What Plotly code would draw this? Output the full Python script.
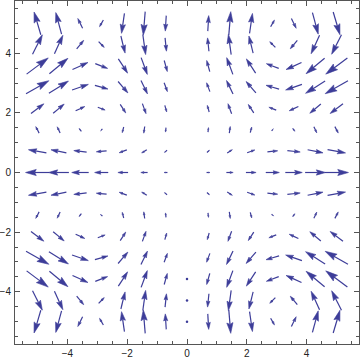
import math
import plotly.graph_objects as go

# grid of sample points (same for x and y)
xs = [-5.0, -4.29, -3.57, -2.86, -2.14, -1.43, -0.71, 0.0, 0.71, 1.43, 2.14, 2.86, 3.57, 4.29, 5.0]
ys = [-5.0, -4.29, -3.57, -2.86, -2.14, -1.43, -0.71, 0.0, 0.71, 1.43, 2.14, 2.86, 3.57, 4.29, 5.0]

# horizontal components, one row per y (bottom to top)
U = [
    [-1.42, -1.22, -1.01, -0.81, -0.61, -0.41, -0.20, 0.001, 0.20, 0.41, 0.61, 0.81, 1.01, 1.22, 1.42],
    [2.07, 1.77, 1.48, 1.18, 0.89, 0.59, 0.29, 0.001, -0.29, -0.59, -0.89, -1.18, -1.48, -1.77, -2.07],
    [4.55, 3.90, 3.25, 2.60, 1.95, 1.30, 0.65, 0.001, -0.65, -1.30, -1.95, -2.60, -3.25, -3.90, -4.55],
    [4.80, 4.11, 3.43, 2.74, 2.06, 1.37, 0.69, 0, -0.69, -1.37, -2.06, -2.74, -3.43, -4.11, -4.80],
    [2.71, 2.32, 1.94, 1.55, 1.16, 0.77, 0.39, 0, -0.39, -0.77, -1.16, -1.55, -1.94, -2.32, -2.71],
    [-0.71, -0.61, -0.50, -0.40, -0.30, -0.20, -0.10, 0, 0.10, 0.20, 0.30, 0.40, 0.50, 0.61, 0.71],
    [-3.78, -3.24, -2.70, -2.16, -1.62, -1.08, -0.54, 0, 0.54, 1.08, 1.62, 2.16, 2.70, 3.24, 3.78],
    [-5.00, -4.29, -3.57, -2.86, -2.14, -1.43, -0.71, 0, 0.71, 1.43, 2.14, 2.86, 3.57, 4.29, 5.00],
    [-3.78, -3.24, -2.70, -2.16, -1.62, -1.08, -0.54, 0, 0.54, 1.08, 1.62, 2.16, 2.70, 3.24, 3.78],
    [-0.71, -0.61, -0.50, -0.40, -0.30, -0.20, -0.10, 0, 0.10, 0.20, 0.30, 0.40, 0.50, 0.61, 0.71],
    [2.71, 2.32, 1.94, 1.55, 1.16, 0.77, 0.39, 0, -0.39, -0.77, -1.16, -1.55, -1.94, -2.32, -2.71],
    [4.80, 4.11, 3.43, 2.74, 2.06, 1.37, 0.69, 0, -0.69, -1.37, -2.06, -2.74, -3.43, -4.11, -4.80],
    [4.55, 3.90, 3.25, 2.60, 1.95, 1.30, 0.65, 0, -0.65, -1.30, -1.95, -2.60, -3.25, -3.90, -4.55],
    [2.07, 1.77, 1.48, 1.18, 0.89, 0.59, 0.29, 0, -0.29, -0.59, -0.89, -1.18, -1.48, -1.77, -2.07],
    [-1.42, -1.22, -1.01, -0.81, -0.61, -0.41, -0.20, 0, 0.20, 0.41, 0.61, 0.81, 1.01, 1.22, 1.42],
]

# vertical components, one row per y (bottom to top)
V = [
    [-4.80, -4.55, -2.08, 1.40, 4.20, 4.95, 3.27, 0, -3.27, -4.95, -4.20, -1.40, 2.08, 4.55, 4.80],
    [-4.11, -3.90, -1.79, 1.20, 3.60, 4.24, 2.81, 0, -2.81, -4.24, -3.60, -1.20, 1.79, 3.90, 4.11],
    [-3.42, -3.25, -1.49, 1.00, 3.00, 3.54, 2.34, 0, -2.34, -3.54, -3.00, -1.00, 1.49, 3.25, 3.42],
    [-2.74, -2.60, -1.19, 0.80, 2.40, 2.83, 1.87, 0, -1.87, -2.83, -2.40, -0.80, 1.19, 2.60, 2.74],
    [-2.06, -1.95, -0.89, 0.60, 1.80, 2.12, 1.40, 0, -1.40, -2.12, -1.80, -0.60, 0.89, 1.95, 2.06],
    [-1.37, -1.30, -0.60, 0.40, 1.20, 1.41, 0.94, 0, -0.94, -1.41, -1.20, -0.40, 0.60, 1.30, 1.37],
    [-0.68, -0.65, -0.30, 0.20, 0.60, 0.71, 0.47, 0, -0.47, -0.71, -0.60, -0.20, 0.30, 0.65, 0.68],
    [0, 0, 0, 0, 0, 0, 0, 0, 0, 0, 0, 0, 0, 0, 0],
    [0.68, 0.65, 0.30, -0.20, -0.60, -0.71, -0.47, 0, 0.47, 0.71, 0.60, 0.20, -0.30, -0.65, -0.68],
    [1.37, 1.30, 0.60, -0.40, -1.20, -1.41, -0.94, 0, 0.94, 1.41, 1.20, 0.40, -0.60, -1.30, -1.37],
    [2.06, 1.95, 0.89, -0.60, -1.80, -2.12, -1.40, 0, 1.40, 2.12, 1.80, 0.60, -0.89, -1.95, -2.06],
    [2.74, 2.60, 1.19, -0.80, -2.40, -2.83, -1.87, 0, 1.87, 2.83, 2.40, 0.80, -1.19, -2.60, -2.74],
    [3.42, 3.25, 1.49, -1.00, -3.00, -3.54, -2.34, 0, 2.34, 3.54, 3.00, 1.00, -1.49, -3.25, -3.42],
    [4.11, 3.90, 1.79, -1.20, -3.60, -4.24, -2.81, 0, 2.81, 4.24, 3.60, 1.20, -1.79, -3.90, -4.11],
    [4.80, 4.55, 2.08, -1.40, -4.20, -4.95, -3.27, 0, 3.27, 4.95, 4.20, 1.40, -2.08, -4.55, -4.80],
]

tick_vals = [-4, -2, 0, 2, 4]
tick_text = ["\u22124", "\u22122", "0", "2", "4"]

COLOR = "#3d3d99"
SCALE = 0.159      # axis units per unit of magnitude
HEAD_FRAC = 0.45
HEAD_HALF = 0.29
NOTCH = 0.15

sx, sy = [], []
hx, hy = [], []
dx_, dy_ = [], []
for j, y in enumerate(ys):
    for i, x in enumerate(xs):
        u, v = U[j][i], V[j][i]
        m = math.hypot(u, v)
        if m == 0:
            continue
        if m < 0.05:
            dx_.append(x); dy_.append(y)
            continue
        L = m * SCALE
        ux, uy = u / m, v / m
        px, py = -uy, ux
        x0, y0 = x - ux * L / 2, y - uy * L / 2
        x1, y1 = x + ux * L / 2, y + uy * L / 2
        h = HEAD_FRAC * L
        w = HEAD_HALF * h
        bx, by = x1 - ux * h, y1 - uy * h
        sx += [x0, bx + ux * h * NOTCH, None]
        sy += [y0, by + uy * h * NOTCH, None]
        hx += [x1, bx + px * w, bx + ux * h * NOTCH, bx - px * w, x1, None]
        hy += [y1, by + py * w, by + uy * h * NOTCH, by - py * w, y1, None]

fig = go.Figure()
fig.add_trace(go.Scatter(x=sx, y=sy, mode="lines", line=dict(color=COLOR, width=1.2),
                         hoverinfo="skip", showlegend=False))
fig.add_trace(go.Scatter(x=hx, y=hy, mode="lines", fill="toself", fillcolor=COLOR,
                         line=dict(color=COLOR, width=0.6), hoverinfo="skip", showlegend=False))
fig.add_trace(go.Scatter(x=dx_, y=dy_, mode="markers", marker=dict(color=COLOR, size=2.5),
                         hoverinfo="skip", showlegend=False))

axis_common = dict(
    range=[-5.75, 5.75], showgrid=False, zeroline=False, automargin=False,
    showline=True, linecolor="#555555", linewidth=1, mirror="allticks",
    ticks="inside", ticklen=5, tickcolor="#555555", tickwidth=1,
    tickvals=tick_vals, ticktext=tick_text,
    tickfont=dict(family="Liberation Sans", size=10, color="#222222"),
    minor=dict(dtick=0.5, tick0=0, ticks="inside", ticklen=3, tickcolor="#555555", tickwidth=1),
)

fig.update_layout(
    width=360, height=360,
    margin=dict(l=15, r=1, t=1, b=16, pad=0),
    paper_bgcolor="white", plot_bgcolor="white",
    xaxis=dict(**axis_common, ticklabelstandoff=0),
    yaxis=dict(**axis_common, ticklabelstandoff=1),
    showlegend=False,
)

fig.write_html(
    "out.html",
    config={"displayModeBar": False},
    post_script="document.body.style.margin='0';document.body.style.overflow='hidden';",
)
